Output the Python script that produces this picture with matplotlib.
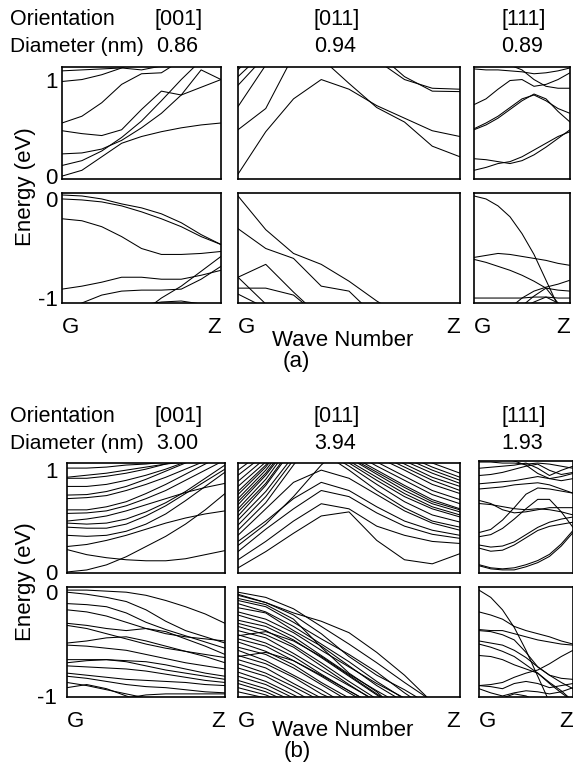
import matplotlib
matplotlib.use('Agg')
import matplotlib.pyplot as plt

plt.rcParams['font.family'] = ['Liberation Sans', 'DejaVu Sans']
plt.rcParams['font.size'] = 16

# wave number grid G -> Z
k = [0.0, 0.125, 0.25, 0.375, 0.5, 0.625, 0.75, 0.875, 1.0]

# ---------------- (a) small wires ----------------
a001_cb = [
    [0.00, 0.06, 0.20, 0.34, 0.41, 0.46, 0.50, 0.53, 0.55],
    [0.11, 0.16, 0.26, 0.40, 0.57, 0.78, 1.00, 1.20, 1.40],
    [0.23, 0.24, 0.28, 0.37, 0.50, 0.65, 0.84, 1.10, 1.00],
    [0.47, 0.44, 0.42, 0.48, 0.69, 0.88, 0.84, 0.92, 1.00],
    [0.55, 0.62, 0.76, 0.95, 1.06, 1.07, 1.20, 1.30, 1.40],
    [0.98, 1.00, 1.05, 1.12, 1.20, 1.30, 1.40, 1.50, 1.60],
    [1.09, 1.10, 1.11, 1.12, 1.10, 1.14, 1.20, 1.30, 1.40],
]
a001_vb = [
    [0.04, 0.03, 0.00, -0.05, -0.09, -0.15, -0.24, -0.36, -0.46],
    [0.00, -0.01, -0.03, -0.07, -0.13, -0.20, -0.28, -0.38, -0.46],
    [-0.20, -0.22, -0.28, -0.38, -0.50, -0.56, -0.56, -0.55, -0.53],
    [-0.91, -0.88, -0.84, -0.79, -0.79, -0.81, -0.81, -0.77, -0.72],
    [-1.20, -1.05, -0.97, -0.93, -0.92, -0.92, -0.91, -0.81, -0.68],
    [-1.40, -1.35, -1.30, -1.25, -1.15, -1.00, -0.88, -0.73, -0.58],
    [-1.10, -1.10, -1.10, -1.09, -1.07, -1.04, -1.03, -1.06, -1.10],
]
a011_cb = [
    [0.02, 0.46, 0.80, 1.00, 0.90, 0.73, 0.60, 0.47, 0.41],
    [1.60, 1.50, 1.40, 1.22, 0.96, 0.71, 0.56, 0.31, 0.20],
    [0.48, 0.70, 1.25, 1.60, 1.80, 1.90, 2.00, 2.00, 2.00],
    [0.72, 1.15, 1.50, 1.80, 1.90, 2.00, 2.00, 2.00, 2.00],
    [0.94, 1.25, 1.60, 1.80, 1.90, 2.00, 2.00, 2.00, 2.00],
    [1.03, 1.30, 1.60, 1.80, 1.90, 2.00, 2.00, 2.00, 2.00],
    [1.10, 1.40, 1.60, 1.80, 1.90, 2.00, 2.00, 2.00, 2.00],
    [1.60, 1.55, 1.50, 1.45, 1.35, 1.20, 1.00, 0.91, 0.90],
    [1.60, 1.55, 1.50, 1.45, 1.40, 1.28, 1.03, 0.88, 0.875],
]
a011_vb = [
    [0.03, -0.31, -0.55, -0.66, -0.83, -1.03, -1.20, -1.40, -1.60],
    [-0.30, -0.50, -0.60, -0.88, -0.93, -1.20, -1.40, -1.60, -1.80],
    [-0.79, -0.66, -0.94, -1.20, -1.40, -1.60, -1.80, -2.00, -2.00],
    [-0.79, -1.06, -1.30, -1.50, -1.70, -1.90, -2.00, -2.00, -2.00],
    [-0.90, -0.90, -0.97, -1.20, -1.40, -1.60, -1.80, -2.00, -2.00],
    [-0.96, -1.10, -1.30, -1.50, -1.70, -1.90, -2.00, -2.00, -2.00],
]
a111_cb = [
    [1.11, 1.10, 1.10, 1.09, 1.08, 1.06, 1.07, 1.09, 1.12],
    [0.74, 0.80, 0.90, 0.99, 1.00, 0.93, 0.95, 1.00, 1.07],
    [1.30, 1.25, 1.20, 1.15, 1.10, 1.00, 0.93, 0.91, 0.91],
    [0.48, 0.53, 0.60, 0.69, 0.78, 0.85, 0.80, 0.67, 0.56],
    [0.49, 0.55, 0.62, 0.71, 0.80, 0.84, 0.78, 0.70, 0.65],
    [0.18, 0.17, 0.15, 0.13, 0.16, 0.22, 0.30, 0.39, 0.48],
    [0.06, 0.09, 0.13, 0.15, 0.20, 0.27, 0.34, 0.41, 0.46],
]
a111_vb = [
    [0.03, 0.00, -0.07, -0.18, -0.35, -0.56, -0.82, -1.08, -1.30],
    [-0.59, -0.57, -0.55, -0.56, -0.58, -0.60, -0.62, -0.65, -0.67],
    [-0.61, -0.64, -0.68, -0.72, -0.77, -0.83, -0.90, -1.05, -1.20],
    [-1.40, -1.30, -1.20, -1.10, -1.00, -0.93, -0.89, -0.86, -0.82],
    [-1.00, -1.00, -1.00, -1.00, -1.00, -0.99, -0.99, -1.00, -1.00],
    [-1.30, -1.25, -1.20, -1.15, -1.08, -0.98, -0.90, -0.92, -0.93],
    [-1.20, -1.20, -1.20, -1.15, -1.10, -1.04, -0.99, -1.05, -1.15],
]

# ---------------- (b) large wires ----------------
b001_cb = [
    [0.00, 0.02, 0.07, 0.15, 0.25, 0.35, 0.47, 0.61, 0.77],
    [0.22, 0.17, 0.14, 0.12, 0.11, 0.11, 0.13, 0.17, 0.21],
    [0.25, 0.27, 0.31, 0.36, 0.42, 0.48, 0.53, 0.57, 0.60],
    [0.36, 0.35, 0.36, 0.40, 0.47, 0.57, 0.70, 0.84, 0.98],
    [0.44, 0.43, 0.43, 0.47, 0.55, 0.65, 0.77, 0.89, 1.01],
    [0.48, 0.47, 0.48, 0.52, 0.59, 0.68, 0.79, 0.92, 1.05],
    [0.50, 0.52, 0.55, 0.60, 0.66, 0.72, 0.78, 0.83, 0.87],
    [0.575, 0.58, 0.60, 0.65, 0.72, 0.80, 0.90, 1.00, 1.10],
    [0.61, 0.61, 0.64, 0.69, 0.77, 0.86, 0.96, 1.06, 1.15],
    [0.72, 0.73, 0.75, 0.80, 0.86, 0.93, 1.01, 1.09, 1.20],
    [0.755, 0.76, 0.79, 0.84, 0.91, 0.99, 1.07, 1.15, 1.25],
    [0.84, 0.84, 0.86, 0.90, 0.95, 1.01, 1.08, 1.15, 1.20],
    [0.92, 0.92, 0.94, 0.97, 1.01, 1.06, 1.10, 1.15, 1.20],
    [0.93, 0.95, 0.97, 1.00, 1.03, 1.06, 1.08, 1.10, 1.12],
    [1.02, 1.02, 1.03, 1.05, 1.06, 1.08, 1.10, 1.12, 1.15],
]
b001_vb = [
    [0.02, 0.02, 0.01, 0.00, -0.03, -0.08, -0.14, -0.21, -0.30],
    [0.00, -0.02, -0.05, -0.09, -0.17, -0.28, -0.37, -0.43, -0.49],
    [-0.11, -0.12, -0.14, -0.20, -0.29, -0.36, -0.42, -0.48, -0.54],
    [-0.17, -0.19, -0.23, -0.29, -0.35, -0.40, -0.43, -0.45, -0.47],
    [-0.30, -0.32, -0.35, -0.37, -0.35, -0.38, -0.45, -0.52, -0.60],
    [-0.32, -0.35, -0.40, -0.45, -0.50, -0.54, -0.57, -0.60, -0.63],
    [-0.49, -0.47, -0.44, -0.43, -0.47, -0.52, -0.57, -0.62, -0.68],
    [-0.51, -0.52, -0.54, -0.56, -0.60, -0.64, -0.68, -0.71, -0.74],
    [-0.65, -0.65, -0.65, -0.66, -0.67, -0.70, -0.74, -0.78, -0.81],
    [-0.68, -0.66, -0.65, -0.67, -0.71, -0.75, -0.78, -0.81, -0.84],
    [-0.71, -0.72, -0.73, -0.74, -0.76, -0.79, -0.82, -0.85, -0.87],
    [-0.78, -0.80, -0.82, -0.84, -0.85, -0.86, -0.87, -0.89, -0.90],
    [-0.81, -0.83, -0.86, -0.89, -0.91, -0.92, -0.94, -0.96, -0.97],
    [-0.92, -0.89, -0.93, -1.00, -1.06, -1.10, -1.10, -1.10, -1.10],
    [-0.87, -0.90, -0.94, -0.98, -1.02, -1.06, -1.10, -1.10, -1.10],
    [-1.10, -1.08, -1.05, -1.02, -0.99, -0.98, -0.98, -0.98, -0.98],
]
b011_cb = [
    # bands peaking inside the zone
    [0.04, 0.20, 0.38, 0.55, 0.59, 0.31, 0.12, 0.08, 0.18],
    [0.12, 0.30, 0.50, 0.67, 0.62, 0.45, 0.36, 0.30, 0.28],
    [0.20, 0.42, 0.62, 0.80, 0.74, 0.58, 0.45, 0.37, 0.33],
    [0.30, 0.50, 0.72, 0.88, 0.80, 0.64, 0.50, 0.41, 0.36],
    [0.36, 0.62, 0.88, 1.00, 0.92, 0.76, 0.60, 0.48, 0.41],
    # steep bands near G
    [0.26, 0.47, 0.74, 1.05, 1.30, 1.50, 1.60, 1.60, 1.60],
    [0.41, 0.68, 1.05, 1.40, 1.60, 1.60, 1.60, 1.60, 1.60],
    [0.46, 0.74, 1.10, 1.45, 1.60, 1.60, 1.60, 1.60, 1.60],
    [0.51, 0.79, 1.14, 1.45, 1.60, 1.60, 1.60, 1.60, 1.60],
    [0.55, 0.85, 1.22, 1.50, 1.60, 1.60, 1.60, 1.60, 1.60],
    [0.59, 0.87, 1.24, 1.50, 1.60, 1.60, 1.60, 1.60, 1.60],
    [0.62, 0.91, 1.28, 1.50, 1.60, 1.60, 1.60, 1.60, 1.60],
    [0.66, 0.95, 1.30, 1.50, 1.60, 1.60, 1.60, 1.60, 1.60],
    [0.69, 0.97, 1.32, 1.50, 1.60, 1.60, 1.60, 1.60, 1.60],
    [0.72, 1.00, 1.35, 1.55, 1.60, 1.60, 1.60, 1.60, 1.60],
    [0.76, 1.03, 1.38, 1.55, 1.60, 1.60, 1.60, 1.60, 1.60],
    [0.79, 1.05, 1.40, 1.55, 1.60, 1.60, 1.60, 1.60, 1.60],
    [0.84, 1.08, 1.42, 1.55, 1.60, 1.60, 1.60, 1.60, 1.60],
    [0.89, 1.12, 1.45, 1.55, 1.60, 1.60, 1.60, 1.60, 1.60],
    [0.95, 1.16, 1.50, 1.60, 1.60, 1.60, 1.60, 1.60, 1.60],
    [1.00, 1.20, 1.50, 1.60, 1.60, 1.60, 1.60, 1.60, 1.60],
    # bands coming down towards Z
    [1.60, 1.50, 1.35, 1.18, 1.00, 0.80, 0.63, 0.50, 0.44],
    [1.60, 1.50, 1.38, 1.20, 1.04, 0.86, 0.69, 0.56, 0.49],
    [1.60, 1.50, 1.40, 1.22, 1.07, 0.90, 0.74, 0.62, 0.54],
    [1.60, 1.50, 1.40, 1.25, 1.09, 0.93, 0.77, 0.64, 0.56],
    [1.60, 1.52, 1.42, 1.27, 1.12, 0.96, 0.80, 0.67, 0.59],
    [1.60, 1.52, 1.42, 1.28, 1.13, 0.98, 0.83, 0.69, 0.61],
    [1.60, 1.53, 1.44, 1.30, 1.15, 1.00, 0.85, 0.71, 0.62],
    [1.60, 1.54, 1.46, 1.33, 1.19, 1.04, 0.90, 0.76, 0.67],
    [1.60, 1.55, 1.48, 1.35, 1.22, 1.08, 0.94, 0.80, 0.71],
    [1.60, 1.56, 1.50, 1.38, 1.26, 1.13, 1.00, 0.86, 0.77],
    [1.60, 1.56, 1.50, 1.40, 1.28, 1.16, 1.03, 0.90, 0.80],
    [1.60, 1.57, 1.52, 1.42, 1.31, 1.19, 1.06, 0.93, 0.84],
    [1.60, 1.57, 1.53, 1.44, 1.33, 1.21, 1.09, 0.97, 0.87],
    [1.60, 1.58, 1.54, 1.46, 1.36, 1.24, 1.12, 1.00, 0.90],
    [1.60, 1.58, 1.55, 1.47, 1.38, 1.27, 1.15, 1.03, 0.93],
    [1.60, 1.59, 1.57, 1.50, 1.42, 1.31, 1.19, 1.07, 0.97],
]
b011_vb = [
    [-0.02, -0.10, -0.20, -0.28, -0.39, -0.58, -0.80, -1.06, -1.30],
    [-0.03, -0.10, -0.22, -0.40, -0.62, -0.80, -0.94, -1.10, -1.30],
    [-0.06, -0.12, -0.26, -0.53, -0.78, -0.96, -1.20, -1.40, -1.60],
    [0.00, -0.05, -0.16, -0.33, -0.50, -0.68, -0.87, -1.05, -1.20],
    [-0.08, -0.14, -0.29, -0.45, -0.60, -0.77, -0.97, -1.15, -1.30],
    [-0.11, -0.19, -0.33, -0.50, -0.67, -0.86, -1.03, -1.20, -1.30],
    [-0.15, -0.20, -0.37, -0.52, -0.71, -0.90, -1.06, -1.20, -1.30],
    [-0.19, -0.26, -0.39, -0.56, -0.72, -0.88, -1.02, -1.20, -1.30],
    [-0.22, -0.30, -0.43, -0.61, -0.79, -0.95, -1.10, -1.20, -1.30],
    [-0.27, -0.33, -0.46, -0.63, -0.81, -0.99, -1.15, -1.30, -1.40],
    [-0.30, -0.37, -0.51, -0.68, -0.86, -1.03, -1.20, -1.30, -1.40],
    [-0.33, -0.41, -0.53, -0.71, -0.89, -1.06, -1.20, -1.30, -1.40],
    [-0.37, -0.44, -0.59, -0.75, -0.90, -1.05, -1.20, -1.30, -1.40],
    [-0.42, -0.38, -0.47, -0.62, -0.80, -0.98, -1.15, -1.30, -1.40],
    [-0.41, -0.49, -0.62, -0.79, -0.95, -1.10, -1.20, -1.30, -1.40],
    [-0.45, -0.52, -0.66, -0.81, -0.97, -1.12, -1.25, -1.35, -1.45],
    [-0.48, -0.57, -0.70, -0.87, -1.02, -1.15, -1.30, -1.40, -1.50],
    [-0.53, -0.60, -0.73, -0.89, -1.05, -1.20, -1.30, -1.40, -1.50],
    [-0.56, -0.66, -0.80, -0.94, -1.10, -1.20, -1.30, -1.40, -1.50],
    [-0.62, -0.58, -0.66, -0.80, -0.95, -1.10, -1.25, -1.35, -1.45],
    [-0.61, -0.69, -0.82, -0.98, -1.10, -1.20, -1.30, -1.40, -1.50],
    [-0.65, -0.73, -0.88, -1.02, -1.15, -1.30, -1.40, -1.50, -1.50],
    [-0.69, -0.78, -0.91, -1.05, -1.20, -1.30, -1.40, -1.50, -1.50],
    [-0.73, -0.81, -0.95, -1.10, -1.20, -1.30, -1.40, -1.50, -1.50],
    [-0.77, -0.86, -0.99, -1.12, -1.25, -1.35, -1.45, -1.50, -1.50],
    [-0.81, -0.89, -1.02, -1.15, -1.30, -1.40, -1.50, -1.50, -1.50],
    [-0.85, -0.93, -1.05, -1.20, -1.30, -1.40, -1.50, -1.50, -1.50],
    [-0.88, -0.96, -1.08, -1.20, -1.30, -1.40, -1.50, -1.50, -1.50],
    [-0.92, -0.99, -1.10, -1.20, -1.30, -1.40, -1.50, -1.50, -1.50],
    [-0.96, -1.02, -1.12, -1.25, -1.35, -1.45, -1.50, -1.50, -1.50],
]
b111_cb = [
    [0.06, 0.03, 0.02, 0.02, 0.05, 0.09, 0.15, 0.25, 0.38],
    [0.07, 0.04, 0.03, 0.04, 0.07, 0.11, 0.17, 0.27, 0.40],
    [0.23, 0.20, 0.21, 0.26, 0.33, 0.40, 0.44, 0.46, 0.48],
    [0.26, 0.24, 0.25, 0.29, 0.36, 0.43, 0.48, 0.51, 0.53],
    [0.34, 0.36, 0.42, 0.51, 0.61, 0.70, 0.70, 0.58, 0.43],
    [0.38, 0.41, 0.50, 0.62, 0.75, 0.81, 0.80, 0.78, 0.76],
    [0.69, 0.66, 0.60, 0.57, 0.58, 0.60, 0.62, 0.62, 0.62],
    [0.66, 0.65, 0.63, 0.61, 0.60, 0.61, 0.60, 0.58, 0.55],
    [0.80, 0.81, 0.82, 0.84, 0.85, 0.86, 0.84, 0.80, 0.76],
    [0.85, 0.86, 0.87, 0.88, 0.90, 0.92, 0.90, 0.88, 0.90],
    [0.93, 0.94, 0.96, 0.99, 1.02, 1.04, 0.98, 0.94, 0.96],
    [1.00, 1.01, 1.02, 1.03, 1.05, 1.00, 0.93, 0.98, 1.02],
    [1.06, 1.06, 1.05, 1.05, 1.04, 1.05, 1.04, 1.02, 1.00],
    [1.20, 1.15, 1.10, 1.07, 1.03, 0.95, 0.90, 0.92, 0.95],
]
b111_vb = [
    [0.02, -0.05, -0.17, -0.34, -0.56, -0.81, -1.06, -1.20, -1.40],
    [-0.19, -0.22, -0.26, -0.33, -0.37, -0.40, -0.43, -0.47, -0.50],
    [-0.36, -0.37, -0.37, -0.40, -0.43, -0.46, -0.48, -0.50, -0.51],
    [-0.37, -0.38, -0.41, -0.46, -0.58, -0.72, -0.80, -0.87, -0.93],
    [-0.47, -0.49, -0.51, -0.56, -0.63, -0.72, -0.80, -0.83, -0.84],
    [-0.50, -0.53, -0.57, -0.62, -0.70, -0.78, -0.88, -0.97, -1.05],
    [-0.61, -0.62, -0.65, -0.70, -0.74, -0.78, -0.87, -0.95, -1.05],
    [-0.90, -0.89, -0.87, -0.82, -0.78, -0.75, -0.69, -0.62, -0.56],
    [-0.90, -0.91, -0.93, -0.88, -0.86, -0.88, -0.92, -0.90, -0.88],
    [-0.93, -0.97, -1.00, -0.97, -0.95, -0.96, -0.98, -0.96, -0.92],
    [-1.20, -1.10, -1.02, -0.98, -1.00, -1.05, -1.10, -1.15, -1.20],
]

orientations = ['[001]', '[011]', '[111]']
diam_a = ['0.86', '0.94', '0.89']
diam_b = ['3.00', '3.94', '1.93']

W, H = 573, 766
fig = plt.figure(figsize=(W / 100, H / 100), dpi=100)


def panel(x0, x1, y0, y1, bands, ylim, yticks=None, ylabels=None, ypad=3, gz=False):
    ax = fig.add_axes([x0 / W, 1 - y1 / H, (x1 - x0) / W, (y1 - y0) / H])
    for b in bands:
        ax.plot(k, b, color='black', lw=0.75)
    ax.set_xlim(0, 1)
    ax.set_ylim(*ylim)
    for s in ax.spines.values():
        s.set_linewidth(1.2)
    if yticks is not None:
        ax.set_yticks(yticks)
        ax.set_yticklabels(ylabels)
    else:
        ax.set_yticks([])
    if gz:
        ax.set_xticks([0, 1])
        ax.set_xticklabels(['G', 'Z'])
        lbl = ax.get_xticklabels()
        lbl[0].set_ha('left')
        lbl[1].set_ha('right')
    else:
        ax.set_xticks([])
    ax.tick_params(length=0, labelsize=16)
    ax.tick_params(axis='y', pad=ypad)
    ax.tick_params(axis='x', pad=10)
    return ax


def ftext(x, y, s, size=16, **kw):
    fig.text(x / W, 1 - y / H, s, fontsize=size, **kw)


# ---- part (a) ----
cb_a = (-0.03, 1.13)
vb_a = (-1.05, 0.06)
panel(62, 221, 67, 179, a001_cb, cb_a, [0, 1], ['0', '1'], ypad=3)
panel(238, 460, 67, 179, a011_cb, cb_a)
panel(474, 570, 67, 179, a111_cb, cb_a)
panel(62, 221, 193, 303, a001_vb, vb_a, [-1, 0], ['-1', '0'], ypad=3, gz=True)
panel(238, 460, 193, 303, a011_vb, vb_a, gz=True)
panel(474, 570, 193, 303, a111_vb, vb_a, gz=True)

# ---- part (b) ----
cb_b = (-0.01, 1.07)
vb_b = (-1.01, 0.05)
panel(67, 225, 463, 573, b001_cb, cb_b, [0, 1], ['0', '1'], ypad=7)
panel(238, 460, 463, 573, b011_cb, cb_b)
panel(479, 573, 461, 573, b111_cb, cb_b)
panel(67, 225, 587, 697, b001_vb, vb_b, [-1, 0], ['-1', '0'], ypad=7, gz=True)
panel(238, 460, 587, 697, b011_vb, vb_b, gz=True)
panel(479, 573, 587, 697, b111_vb, vb_b, gz=True)

# header rows
for top, diams in [(0, diam_a), (397, diam_b)]:
    ftext(10, top + 25, 'Orientation', size=15.5, va='baseline')
    ftext(10, top + 52, 'Diameter (nm)', size=15, va='baseline')
    for cx, o, d in zip([179, 337, 524], orientations, diams):
        ftext(cx, top + 25, o, size=15.5, va='baseline', ha='center')
        ftext(cx - 2, top + 52, d, size=15.5, va='baseline', ha='center')

ftext(343, 340, 'Wave Number', ha='center', va='center')
ftext(296, 362, '(a)', ha='center', va='center')
ftext(343, 730, 'Wave Number', ha='center', va='center')
ftext(297, 752, '(b)', ha='center', va='center')
ftext(26, 187, 'Energy (eV)', rotation=90, ha='center', va='center')
ftext(26, 582, 'Energy (eV)', rotation=90, ha='center', va='center')

fig.savefig('out.png', dpi=100)
